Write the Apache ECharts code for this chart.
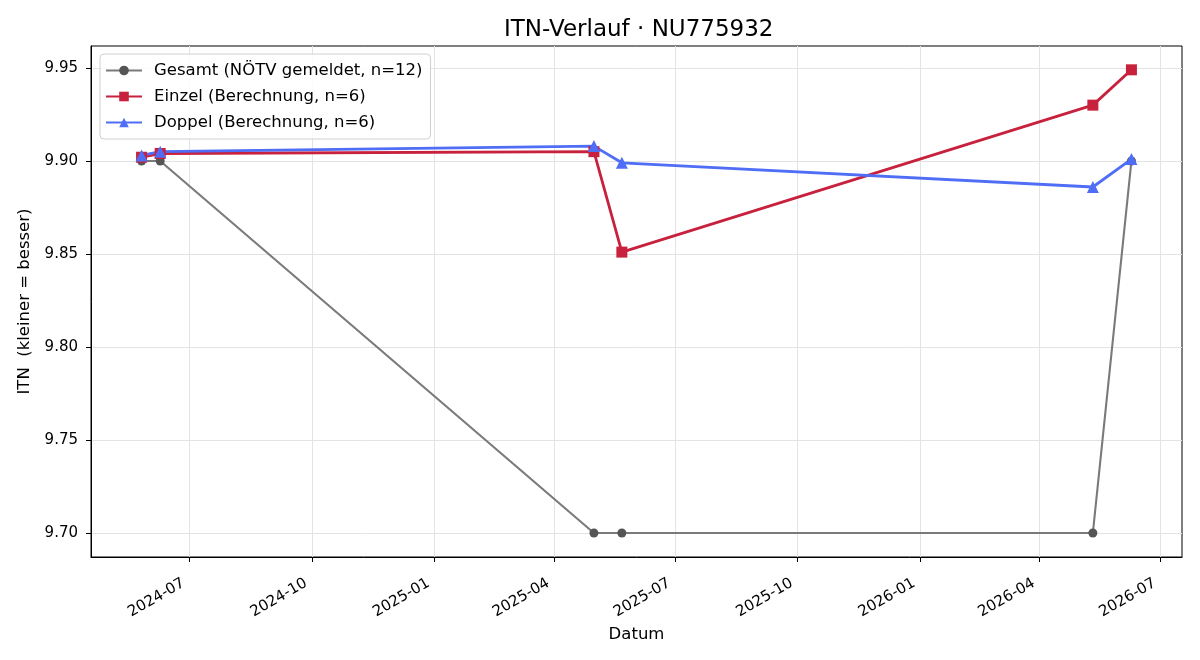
<!DOCTYPE html>
<html>
<head>
<meta charset="utf-8">
<script src="https://cdn.jsdelivr.net/npm/echarts@6/dist/echarts.min.js"></script>
<style>
  html, body { margin: 0; padding: 0; background: #fff; }
  #chart { width: 1200px; height: 660px; }
</style>
</head>
<body>
<div id="chart"></div>
<script>
const dates = ['2024-05-26', '2024-06-09', '2025-05-01', '2025-05-22', '2026-05-11', '2026-06-09'];
const gesamt = [9.900, 9.900, 9.700, 9.700, 9.700, 9.900];
const einzel = [9.902, 9.904, 9.905, 9.851, 9.930, 9.949];
const doppel = [9.903, 9.905, 9.908, 9.899, 9.886, 9.901];

const xTicks = ['2024-07-01', '2024-10-01', '2025-01-01', '2025-04-01', '2025-07-01',
                '2025-10-01', '2026-01-01', '2026-04-01', '2026-07-01'];
const yTicks = [9.70, 9.75, 9.80, 9.85, 9.90, 9.95];

const names = ['Gesamt (NÖTV gemeldet, n=12)', 'Einzel (Berechnung, n=6)', 'Doppel (Berechnung, n=6)'];

function ts(d) {
    const p = d.split('-');
    return Date.UTC(+p[0], +p[1] - 1, +p[2]);
}
function pairs(vals) {
    return dates.map((d, i) => [ts(d), vals[i]]);
}

const font = 'DejaVu Sans';
const chart = echarts.init(document.getElementById('chart'));

chart.setOption({
    animation: false,
    backgroundColor: '#fff',
    textStyle: { fontFamily: font },
    title: {
        text: 'ITN-Verlauf · NU775932',
        left: 499,
        top: 14,
        textStyle: { fontFamily: font, fontSize: 23, fontWeight: 'normal', color: '#000' }
    },
    grid: {
        left: 91, right: 18, top: 46, bottom: 103,
        show: true, borderColor: '#000', borderWidth: 1
    },
    legend: {
        orient: 'vertical',
        left: 100,
        top: 54,
        padding: [7, 8, 7, 5],
        itemGap: 7,
        itemWidth: 36,
        itemHeight: 12,
        borderColor: '#d0d0d0',
        borderWidth: 1,
        borderRadius: 4,
        backgroundColor: 'rgba(255,255,255,0.85)',
        textStyle: { fontFamily: font, fontSize: 16.5, color: '#000', lineHeight: 19, padding: [0, 0, 0, 7] },
        data: names
    },
    xAxis: {
        type: 'value',
        min: ts('2024-04-18'),
        max: ts('2026-07-17'),
        name: 'Datum',
        nameLocation: 'middle',
        nameGap: 68,
        nameTextStyle: { fontFamily: font, fontSize: 16.5, color: '#000' },
        axisLine: { show: true, onZero: false, lineStyle: { color: '#000', width: 1 } },
        axisTick: { show: true, length: 5, lineStyle: { color: '#000' }, customValues: xTicks.map(ts) },
        axisLabel: {
            rotate: 30,
            margin: 13,
            align: 'right',
            verticalAlign: 'top',
            padding: [0, 11, 0, 0],
            fontFamily: font,
            fontSize: 15,
            color: '#000',
            customValues: xTicks.map(ts),
            formatter: function (v) {
                const d = new Date(v);
                const m = d.getUTCMonth() + 1;
                return d.getUTCFullYear() + '-' + (m < 10 ? '0' + m : m);
            }
        },
        splitLine: { show: true, lineStyle: { color: '#e3e3e3', width: 1 } }
    },
    yAxis: {
        type: 'value',
        min: 9.6871,
        max: 9.9618,
        name: 'ITN  (kleiner = besser)',
        nameLocation: 'middle',
        nameGap: 53,
        nameTextStyle: { fontFamily: font, fontSize: 16.5, color: '#000' },
        axisLine: { show: true, onZero: false, lineStyle: { color: '#000', width: 1 } },
        axisTick: { show: true, length: 5, lineStyle: { color: '#000' }, customValues: yTicks },
        axisLabel: {
            fontFamily: font,
            fontSize: 15,
            color: '#000',
            margin: 13,
            customValues: yTicks,
            formatter: v => v.toFixed(2)
        },
        splitLine: { show: true, lineStyle: { color: '#e3e3e3', width: 1 } }
    },
    series: [
        {
            name: names[0],
            type: 'line',
            data: pairs(gesamt),
            symbol: 'circle',
            symbolSize: 9,
            showAllSymbol: true,
            lineStyle: { color: '#7a7a7a', width: 2.1 },
            itemStyle: { color: '#555555' }
        },
        {
            name: names[1],
            type: 'line',
            data: pairs(einzel),
            symbol: 'rect',
            symbolSize: 11,
            showAllSymbol: true,
            lineStyle: { color: '#c8213d', width: 2.8 },
            itemStyle: { color: '#c8213d' }
        },
        {
            name: names[2],
            type: 'line',
            data: pairs(doppel),
            symbol: 'triangle',
            symbolSize: 12,
            showAllSymbol: true,
            lineStyle: { color: '#4f6ef5', width: 2.8 },
            itemStyle: { color: '#4f6ef5' }
        }
    ]
});
</script>
</body>
</html>
